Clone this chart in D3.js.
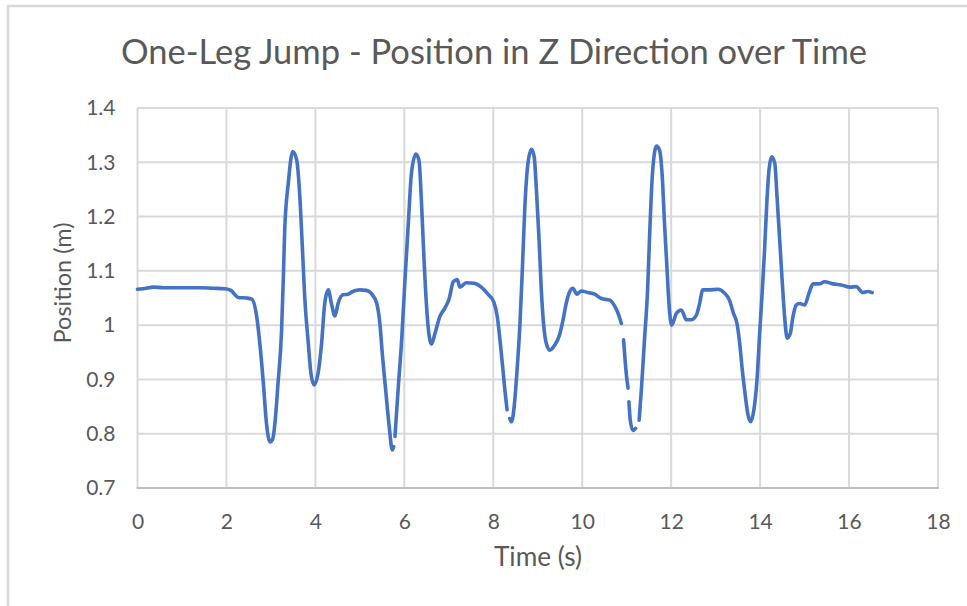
<!DOCTYPE html>
<html>
<head>
<meta charset="utf-8">
<script src="https://cdn.jsdelivr.net/npm/d3@7"></script>
<style>
  html, body { margin: 0; padding: 0; background: #ffffff; }
  svg { display: block; }
  text { font-family: "Lato", "Open Sans", sans-serif; fill: #595959; }
</style>
</head>
<body>
<svg id="chart" width="967" height="606"></svg>
<script>
// Vertical position of the marker during a series of one-leg jumps.
// null entries are dropped samples, drawn as breaks in the line.
const timeS = [
  0.00, 0.20, 0.35, 0.60, 1.00, 1.40, 1.70, 1.97, 2.10, 2.27, 2.45, 2.57,
  2.68, 2.75, 2.83, 2.90, 2.98, 3.04, 3.09, 3.16, 3.24, 3.28, 3.31, 3.39,
  3.49, 3.58, 3.65, 3.71, 3.76, 3.84, 3.90, 3.97, 4.06, 4.14, 4.21, 4.29,
  4.36, 4.44, 4.51, 4.62, 4.73, 4.84, 5.00, 5.15, 5.26, 5.38, 5.45, 5.51,
  5.58, 5.66, 5.73, 5.76, 5.775, 5.79, 5.86, 5.94, 6.01, 6.09, 6.16, 6.26,
  6.33, 6.39, 6.44, 6.50, 6.56, 6.61, 6.69, 6.80, 6.91, 7.01, 7.10, 7.19,
  7.25, 7.39, 7.58, 7.73, 7.88, 8.01, 8.09, 8.15, 8.21, 8.26, 8.31, 8.34,
  8.37, 8.41, 8.47, 8.53, 8.60, 8.65, 8.71, 8.78, 8.86, 8.92, 8.97, 9.03,
  9.08, 9.13, 9.19, 9.27, 9.38, 9.49, 9.57, 9.64, 9.72, 9.79, 9.88, 9.98,
  10.13, 10.28, 10.43, 10.62, 10.73, 10.82, 10.88, 10.905, 10.93, 10.99, 11.03, 11.04,
  11.05, 11.08, 11.14, 11.20, 11.24, 11.28, 11.33, 11.40, 11.47, 11.52, 11.58, 11.67,
  11.74, 11.80, 11.85, 11.90, 11.95, 12.01, 12.12, 12.23, 12.34, 12.45, 12.57, 12.64,
  12.71, 12.83, 13.05, 13.20, 13.31, 13.40, 13.48, 13.54, 13.60, 13.67, 13.72, 13.79,
  13.86, 13.93, 13.99, 14.05, 14.10, 14.15, 14.20, 14.26, 14.33, 14.38, 14.44, 14.50,
  14.55, 14.61, 14.68, 14.74, 14.81, 14.89, 15.00, 15.10, 15.19, 15.34, 15.45, 15.64,
  15.83, 16.02, 16.16, 16.31, 16.42, 16.52
];
const positionM = [
  1.066, 1.068, 1.070, 1.069, 1.069, 1.069, 1.068, 1.067, 1.064, 1.051, 1.050, 1.048,
  1.016, 0.967, 0.893, 0.819, 0.785, 0.790, 0.819, 0.893, 0.991, 1.089, 1.175, 1.261,
  1.320, 1.304, 1.237, 1.138, 1.052, 0.967, 0.911, 0.890, 0.911, 0.967, 1.040, 1.065,
  1.040, 1.017, 1.040, 1.056, 1.057, 1.062, 1.065, 1.064, 1.058, 1.040, 1.003, 0.942,
  0.881, 0.813, 0.770, 0.776, null, 0.795, 0.881, 0.973, 1.077, 1.188, 1.280, 1.315,
  1.303, 1.218, 1.126, 1.034, 0.979, 0.965, 0.985, 1.016, 1.031, 1.049, 1.080, 1.084,
  1.070, 1.078, 1.077, 1.070, 1.057, 1.043, 1.016, 0.973, 0.924, 0.881, 0.844, null,
  0.828, 0.822, 0.850, 0.911, 1.003, 1.095, 1.218, 1.298, 1.324, 1.310, 1.249, 1.157,
  1.065, 1.003, 0.967, 0.954, 0.963, 0.982, 1.010, 1.040, 1.062, 1.068, 1.057, 1.063,
  1.060, 1.057, 1.049, 1.046, 1.035, 1.019, 1.003, null, 0.973, 0.911, 0.884, null,
  0.859, 0.825, 0.806, 0.810, null, 0.825, 0.881, 0.973, 1.065, 1.175, 1.280, 1.330,
  1.322, 1.273, 1.188, 1.114, 1.040, 1.000, 1.022, 1.028, 1.010, 1.010, 1.019, 1.040,
  1.065, 1.065, 1.066, 1.059, 1.046, 1.022, 1.003, 0.967, 0.917, 0.868, 0.838, 0.822,
  0.844, 0.899, 0.985, 1.065, 1.138, 1.224, 1.286, 1.310, 1.298, 1.237, 1.157, 1.077,
  1.016, 0.976, 0.985, 1.016, 1.037, 1.040, 1.037, 1.059, 1.076, 1.076, 1.080, 1.076,
  1.074, 1.070, 1.071, 1.060, 1.062, 1.060
];

const xTicks = [0, 2, 4, 6, 8, 10, 12, 14, 16, 18];
const yTicks = [0.7, 0.8, 0.9, 1.0, 1.1, 1.2, 1.3, 1.4];

const chartTitle = "One-Leg Jump - Position in Z Direction over Time";
const xTitle = "Time (s)";
const yTitle = "Position (m)";

const svg = d3.select("#chart");
const plot = { left: 137.5, right: 938, top: 108, bottom: 488 };

const x = d3.scaleLinear().domain([0, 18]).range([plot.left, plot.right]);
const y = d3.scaleLinear().domain([0.7, 1.4]).range([plot.bottom, plot.top]);

// Chart frame
svg.append("rect")
  .attr("x", 8).attr("y", 6)
  .attr("width", 1000).attr("height", 700)
  .attr("fill", "#ffffff")
  .attr("stroke", "#d9d9d9")
  .attr("stroke-width", 2.5);

// Gridlines
const grid = svg.append("g");
grid.selectAll("line.h")
  .data(yTicks.slice(1))
  .join("line")
  .attr("class", "h")
  .attr("x1", plot.left).attr("x2", plot.right)
  .attr("y1", d => y(d)).attr("y2", d => y(d))
  .attr("stroke", "#d9d9d9").attr("stroke-width", 2);
grid.selectAll("line.v")
  .data(xTicks)
  .join("line")
  .attr("class", "v")
  .attr("x1", d => x(d)).attr("x2", d => x(d))
  .attr("y1", plot.top).attr("y2", plot.bottom)
  .attr("stroke", "#d9d9d9").attr("stroke-width", 2);

// Bottom axis line
svg.append("line")
  .attr("x1", plot.left - 1).attr("x2", plot.right + 1)
  .attr("y1", y(0.7)).attr("y2", y(0.7))
  .attr("stroke", "#bfbfbf").attr("stroke-width", 2);

// Axis tick labels via d3 axes (lines hidden, labels only)
const xAxis = d3.axisBottom(x).tickValues(xTicks).tickFormat(d3.format("d")).tickSize(0).tickPadding(0);
const gx = svg.append("g").attr("transform", `translate(0, ${plot.bottom})`).call(xAxis);
gx.select(".domain").remove();
gx.selectAll("text")
  .attr("y", 0).attr("dy", null)
  .attr("transform", "translate(0, 41)")
  .style("font-family", "Lato, 'Open Sans', sans-serif")
  .style("font-size", "21px")
  .attr("fill", "#595959");

const yAxis = d3.axisLeft(y).tickValues(yTicks).tickFormat(d => d3.format("")(+d.toFixed(1))).tickSize(0).tickPadding(22);
const gy = svg.append("g").attr("transform", `translate(${plot.left}, 0)`).call(yAxis);
gy.select(".domain").remove();
gy.selectAll("text")
  .style("font-family", "Lato, 'Open Sans', sans-serif")
  .style("font-size", "21px")
  .attr("fill", "#595959");

// Data line
const pts = timeS.map((t, i) => ({ t, v: positionM[i] }));
const line = d3.line()
  .defined(d => d.v !== null)
  .x(d => x(d.t))
  .y(d => y(d.v))
  .curve(d3.curveMonotoneX);

svg.append("path")
  .datum(pts)
  .attr("d", line)
  .attr("fill", "none")
  .attr("stroke", "#4472c4")
  .attr("stroke-width", 3.6)
  .attr("stroke-linejoin", "round")
  .attr("stroke-linecap", "round");

// Scale a text element's font so it spans the given width
function fitWidth(sel, width, base) {
  sel.style("font-size", base + "px");
  const len = sel.node().getComputedTextLength();
  sel.style("font-size", (base * width / len).toFixed(2) + "px");
}

// Titles
const title = svg.append("text")
  .attr("x", 494).attr("y", 64)
  .attr("text-anchor", "middle")
  .text(chartTitle);
fitWidth(title, 746, 30);

const xt = svg.append("text")
  .attr("x", 538).attr("y", 566)
  .attr("text-anchor", "middle")
  .text(xTitle);
fitWidth(xt, 88, 24);

const yt = svg.append("text")
  .attr("transform", "translate(71, 283) rotate(-90)")
  .attr("text-anchor", "middle")
  .text(yTitle);
fitWidth(yt, 121, 24);
</script>
</body>
</html>
